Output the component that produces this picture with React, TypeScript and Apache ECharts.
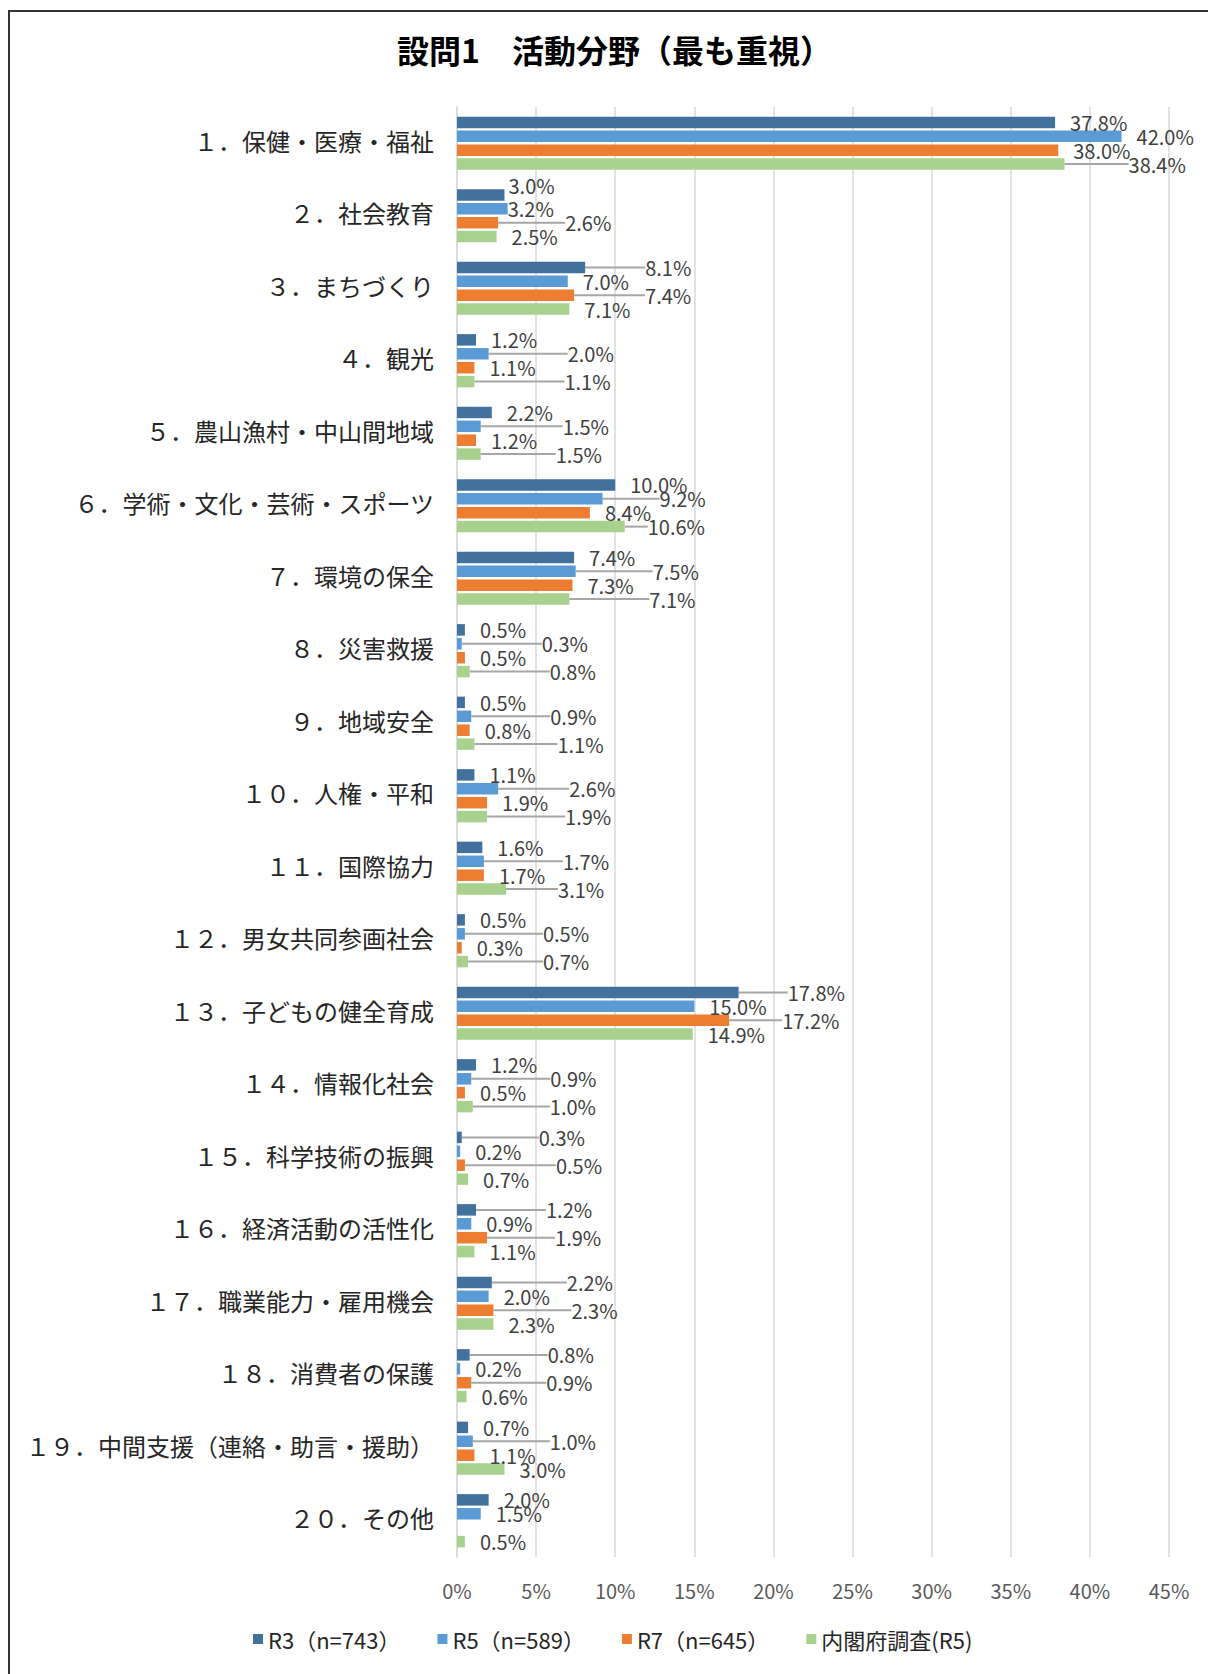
import React, { useEffect, useRef } from "react";
import * as echarts from "echarts";

const CATEGORIES = [
  "１．保健・医療・福祉",
  "２．社会教育",
  "３．まちづくり",
  "４．観光",
  "５．農山漁村・中山間地域",
  "６．学術・文化・芸術・スポーツ",
  "７．環境の保全",
  "８．災害救援",
  "９．地域安全",
  "１０．人権・平和",
  "１１．国際協力",
  "１２．男女共同参画社会",
  "１３．子どもの健全育成",
  "１４．情報化社会",
  "１５．科学技術の振興",
  "１６．経済活動の活性化",
  "１７．職業能力・雇用機会",
  "１８．消費者の保護",
  "１９．中間支援（連絡・助言・援助）",
  "２０．その他",
];

const SERIES_NAMES = ["R3（n=743）", "R5（n=589）", "R7（n=645）", "内閣府調査(R5)"];

const R3 = [37.8, 3.0, 8.1, 1.2, 2.2, 10.0, 7.4, 0.5, 0.5, 1.1, 1.6, 0.5, 17.8, 1.2, 0.3, 1.2, 2.2, 0.8, 0.7, 2.0];
const R5 = [42.0, 3.2, 7.0, 2.0, 1.5, 9.2, 7.5, 0.3, 0.9, 2.6, 1.7, 0.5, 15.0, 0.9, 0.2, 0.9, 2.0, 0.2, 1.0, 1.5];
const R7 = [38.0, 2.6, 7.4, 1.1, 1.2, 8.4, 7.3, 0.5, 0.8, 1.9, 1.7, 0.3, 17.2, 0.5, 0.5, 1.9, 2.3, 0.9, 1.1, null];
const CAO = [38.4, 2.5, 7.1, 1.1, 1.5, 10.6, 7.1, 0.8, 1.1, 1.9, 3.1, 0.7, 14.9, 1.0, 0.7, 1.1, 2.3, 0.6, 3.0, 0.5];

const X_TICKS_MAX = 45;
const X_TICK_STEP = 5;

// label offsets (style only): extra horizontal shift of data labels that use a leader line
const DX_R3 = [0, -11, 45, 0, 0, 0, 0, 0, 0, 0, 0, 0, 34, 0, 62, 55, 60, 63, 0, 0];
const DX_R5 = [0, -15, 0, 64, 67, 42, 62, 65, 64, 56, 64, 63, 0, 64, 0, 0, 0, 0, 62, 0];
const DX_R7 = [0, 52, 56, 0, 0, 0, 0, 0, 0, 0, 0, 0, 38, 0, 76, 53, 63, 60, 0, 0];
const DX_CAO = [49, 0, 0, 75, 60, 8, 65, 65, 68, 63, 37, 60, 0, 62, 0, 0, 0, 0, 0, 0];
const DY_R3 = [0, -9, 0, 0, 0, 0, 0, 0, 0, 0, 0, 0, 0, 0, 0, 0, 0, 0, 0, 0];

const COLORS = ["#41719C", "#5B9BD5", "#ED7D31", "#A9D18E"];

const FONT = "'Noto Sans CJK JP', 'Noto Sans', sans-serif";

export default function App() {
  const ref = useRef<HTMLDivElement>(null);

  useEffect(() => {
    if (!ref.current) return;
    const chart = echarts.init(ref.current, undefined, { renderer: "svg" });
    const values = [R3, R5, R7, CAO];
    const dxs = [DX_R3, DX_R5, DX_R7, DX_CAO];
    const dys = [DY_R3, null, null, null];

    const series = values.map((vals, si) => ({
      name: SERIES_NAMES[si],
      type: "bar",
      barWidth: 11.5,
      barGap: "21%",
      itemStyle: { color: COLORS[si] },
      data: vals.map((v, di) => ({
        value: v,
        labelLine: { show: dxs[si][di] > 0 },
      })),
      label: {
        show: true,
        position: "right",
        distance: 15,
        fontSize: 20,
        fontFamily: FONT,
        color: "#404040",
        formatter: (p: any) => (p.value == null ? "" : Number(p.value).toFixed(1) + "%"),
      },
      labelLine: {
        lineStyle: { color: "#A6A6A6", width: 2 },
      },
      labelLayout: (p: any) => {
        const dx = dxs[si][p.dataIndex] || 0;
        const dyArr = dys[si];
        const dy = dyArr ? dyArr[p.dataIndex] || 0 : 0;
        return { dx, dy };
      },
    }));

    chart.setOption({
      animation: false,
      backgroundColor: "#ffffff",
      textStyle: { fontFamily: FONT },
      title: {
        text: "設問1　活動分野（最も重視）",
        left: 392,
        top: 28,
        textStyle: { fontSize: 32, fontWeight: "bold", color: "#000000", fontFamily: FONT },
      },
      graphic: [
        {
          type: "rect",
          shape: { x: 9, y: 11, width: 1400, height: 1800 },
          style: { fill: "none", stroke: "#333333", lineWidth: 2 },
          silent: true,
        },
      ],
      legend: {
        bottom: 19,
        left: 248,
        icon: "rect",
        itemWidth: 10,
        itemHeight: 10,
        itemGap: 37,
        textStyle: { fontSize: 22, color: "#262626", fontFamily: FONT },
        data: SERIES_NAMES,
      },
      grid: { left: 457, right: 39, top: 107, bottom: 117, containLabel: false },
      xAxis: {
        type: "value",
        min: 0,
        max: X_TICKS_MAX,
        interval: X_TICK_STEP,
        axisLine: { show: false },
        axisTick: { show: false },
        axisLabel: {
          formatter: "{value}%",
          fontSize: 20,
          color: "#595959",
          margin: 23,
          fontFamily: FONT,
        },
        splitLine: { show: true, lineStyle: { color: "#D9D9D9", width: 1.5 } },
      },
      yAxis: {
        type: "category",
        inverse: true,
        data: CATEGORIES,
        axisLine: { show: true, lineStyle: { color: "#D9D9D9", width: 1.5 } },
        axisTick: { show: false },
        axisLabel: {
          margin: 23,
          formatter: (v: string) => "{c|" + v + "}",
          rich: {
            c: {
              fontSize: 24,
              color: "#262626",
              fontFamily: FONT,
              padding: [0, 0, 6, 0],
            },
          },
        },
      },
      series,
    });
    return () => chart.dispose();
  }, []);

  return (
    <div
      ref={ref}
      style={{ position: "absolute", left: 0, top: 0, width: 1208, height: 1674 }}
    />
  );
}
